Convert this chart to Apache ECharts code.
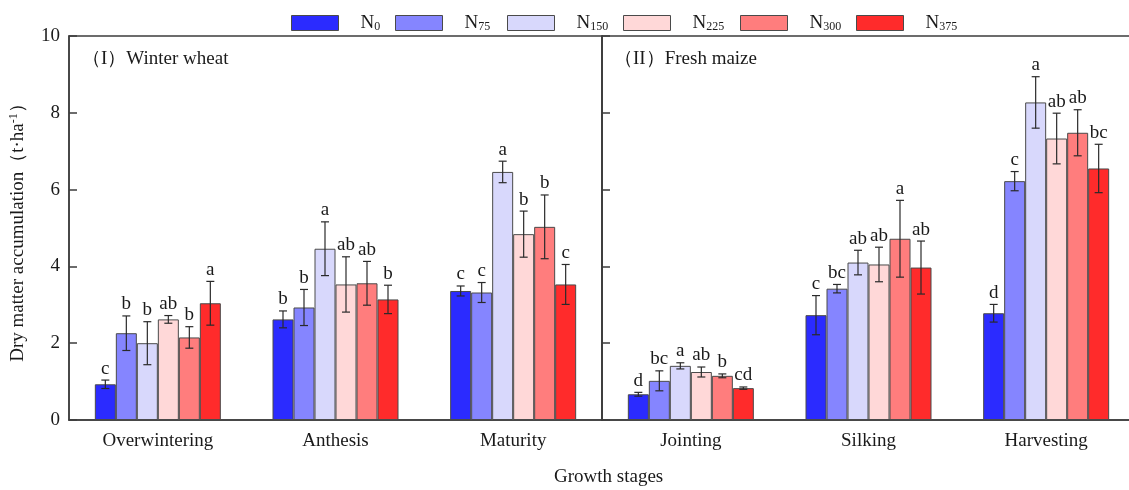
<!DOCTYPE html>
<html>
<head>
<meta charset="utf-8">
<script src="https://cdn.jsdelivr.net/npm/echarts@6/dist/echarts.min.js"></script>
<style>
html,body{margin:0;padding:0;background:#fff;}
#chart{width:1129px;height:490px;}
</style>
</head>
<body>
<div id="chart"></div>
<script>
// ---------- data ----------
const WHEAT_CATS = ['Overwintering', 'Anthesis', 'Maturity'];
const MAIZE_CATS = ['Jointing', 'Silking', 'Harvesting'];
const TREATMENTS = ['N0', 'N75', 'N150', 'N225', 'N300', 'N375'];
const TREAT_SUBS = ['0', '75', '150', '225', '300', '375'];
const Y_TICKS = [0, 2, 4, 6, 8, 10];

// wheat means (rows: treatments, cols: stages)
const WHEAT_N0   = [0.93, 2.62, 3.36];
const WHEAT_N75  = [2.26, 2.93, 3.32];
const WHEAT_N150 = [2.00, 4.46, 6.46];
const WHEAT_N225 = [2.62, 3.53, 4.84];
const WHEAT_N300 = [2.15, 3.56, 5.03];
const WHEAT_N375 = [3.04, 3.14, 3.53];
const WHEAT_ERR = [
  [0.11, 0.22, 0.13],
  [0.45, 0.47, 0.26],
  [0.56, 0.70, 0.28],
  [0.10, 0.72, 0.60],
  [0.28, 0.57, 0.83],
  [0.57, 0.37, 0.52]
];
const WHEAT_LETTERS = [
  ['c', 'b', 'c'],
  ['b', 'b', 'c'],
  ['b', 'a', 'a'],
  ['ab', 'ab', 'b'],
  ['b', 'ab', 'b'],
  ['a', 'b', 'c']
];

// maize means
const MAIZE_N0   = [0.67, 2.73, 2.78];
const MAIZE_N75  = [1.02, 3.42, 6.22];
const MAIZE_N150 = [1.41, 4.10, 8.27];
const MAIZE_N225 = [1.25, 4.05, 7.33];
const MAIZE_N300 = [1.15, 4.72, 7.48];
const MAIZE_N375 = [0.83, 3.97, 6.55];
const MAIZE_ERR = [
  [0.05, 0.51, 0.23],
  [0.26, 0.11, 0.25],
  [0.08, 0.32, 0.67],
  [0.13, 0.45, 0.66],
  [0.05, 1.00, 0.60],
  [0.03, 0.69, 0.63]
];
const MAIZE_LETTERS = [
  ['d', 'c', 'd'],
  ['bc', 'bc', 'c'],
  ['a', 'ab', 'a'],
  ['ab', 'ab', 'ab'],
  ['b', 'a', 'ab'],
  ['cd', 'ab', 'bc']
];

const WHEAT = [WHEAT_N0, WHEAT_N75, WHEAT_N150, WHEAT_N225, WHEAT_N300, WHEAT_N375];
const MAIZE = [MAIZE_N0, MAIZE_N75, MAIZE_N150, MAIZE_N225, MAIZE_N300, MAIZE_N375];

// ---------- style ----------
const COLORS = ['#2b2bff', '#8585ff', '#d8d8fc', '#ffd8d8', '#ff7d7d', '#ff2b2b'];
const FONT = '"Liberation Serif", "Times New Roman", serif';
const LINE = '#3c3c3c';
const BAR_W = 21;
const LEGEND_LEFT = [286, 390, 502, 618, 735, 851];

const chart = echarts.init(document.getElementById('chart'), null, {renderer: 'canvas'});

function xAxisDef(cats, gi) {
  return {
    type: 'category', gridIndex: gi, data: cats,
    axisLine: {lineStyle: {color: LINE, width: 1.5}},
    axisTick: {alignWithLabel: true, length: 8, inside: false, lineStyle: {color: LINE, width: 1.5}},
    axisLabel: {fontFamily: FONT, fontSize: 19, color: '#1a1a1a', margin: 12}
  };
}
function yAxisDef(gi, showLabel) {
  const ax = {
    type: 'value', gridIndex: gi, min: Y_TICKS[0], max: Y_TICKS[Y_TICKS.length - 1], interval: 2,
    splitLine: {show: false},
    axisLine: {show: true, lineStyle: {color: LINE, width: 1.5}},
    axisTick: {show: true, inside: true, length: 8, lineStyle: {color: LINE, width: 1.5}},
    axisLabel: {show: showLabel, fontFamily: FONT, fontSize: 19, color: '#1a1a1a', margin: 9}
  };
  if (showLabel) {
    ax.name = 'Dry matter accumulation（t·ha{sup|-1}）';
    ax.nameLocation = 'middle';
    ax.nameGap = 41;
    ax.nameTextStyle = {
      fontFamily: FONT, fontSize: 19, color: '#1a1a1a',
      rich: {sup: {fontFamily: FONT, fontSize: 12, color: '#1a1a1a', verticalAlign: 'top', padding: [0, 0, 8, 0]}}
    };
  }
  return ax;
}

const series = [];
TREATMENTS.forEach((name, t) => {
  series.push({
    name, type: 'bar', xAxisIndex: 0, yAxisIndex: 0, data: WHEAT[t],
    barWidth: BAR_W, barGap: '0%',
    itemStyle: {color: COLORS[t], borderColor: '#4a4a4a', borderWidth: 1}
  });
  series.push({
    name, type: 'bar', xAxisIndex: 1, yAxisIndex: 1, data: MAIZE[t],
    barWidth: BAR_W, barGap: '0%',
    itemStyle: {color: COLORS[t], borderColor: '#4a4a4a', borderWidth: 1}
  });
});

function errSeries(means, errs, letters, gi) {
  const data = [];
  const lets = [];
  means.forEach((row, t) => row.forEach((m, c) => {
    data.push([c, m, errs[t][c], t]);
    lets.push(letters[t][c]);
  }));
  return {
    type: 'custom', xAxisIndex: gi, yAxisIndex: gi, data, z: 10, silent: true, clip: false,
    encode: {x: 0, y: 1},
    renderItem(params, api) {
      const c = api.value(0), m = api.value(1), e = api.value(2), t = api.value(3);
      const off = (t - (TREATMENTS.length - 1) / 2) * BAR_W;
      const top = api.coord([c, m + e]);
      const bot = api.coord([c, m - e]);
      const x = top[0] + off;
      const cap = 4;
      const st = {stroke: '#2a2a2a', lineWidth: 1.2};
      return {
        type: 'group',
        children: [
          {type: 'line', shape: {x1: x, y1: top[1], x2: x, y2: bot[1]}, style: st},
          {type: 'line', shape: {x1: x - cap, y1: top[1], x2: x + cap, y2: top[1]}, style: st},
          {type: 'line', shape: {x1: x - cap, y1: bot[1], x2: x + cap, y2: bot[1]}, style: st},
          {type: 'text', x: x, y: top[1] - 2,
           style: {text: lets[params.dataIndex], fontFamily: FONT, fontSize: 19, fill: '#1a1a1a',
                   align: 'center', verticalAlign: 'bottom'}}
        ]
      };
    }
  };
}
series.push(errSeries(WHEAT, WHEAT_ERR, WHEAT_LETTERS, 0));
series.push(errSeries(MAIZE, MAIZE_ERR, MAIZE_LETTERS, 1));

const legends = TREATMENTS.map((name, t) => ({
  data: [name], left: LEGEND_LEFT[t], top: 9,
  itemWidth: 47, itemHeight: 15, icon: 'rect',
  itemStyle: {borderColor: '#4a4a4a', borderWidth: 1},
  selectedMode: false,
  formatter: () => '{p|}{n|N}{s|' + TREAT_SUBS[t] + '}',
  textStyle: {
    fontFamily: FONT, color: '#1a1a1a',
    rich: {
      p: {width: 17},
      n: {fontFamily: FONT, fontSize: 19, color: '#1a1a1a', verticalAlign: 'bottom', lineHeight: 20},
      s: {fontFamily: FONT, fontSize: 12, color: '#1a1a1a', verticalAlign: 'bottom', lineHeight: 16}
    }
  }
}));

const option = {
  animation: false,
  backgroundColor: '#fff',
  title: [
    {text: '（I）Winter wheat', left: 77, top: 45, textStyle: {fontFamily: FONT, fontSize: 19, fontWeight: 'normal', color: '#1a1a1a'}},
    {text: '（II）Fresh maize', left: 609, top: 45, textStyle: {fontFamily: FONT, fontSize: 19, fontWeight: 'normal', color: '#1a1a1a'}},
    {text: 'Growth stages', left: 549, top: 463, textStyle: {fontFamily: FONT, fontSize: 19, fontWeight: 'normal', color: '#1a1a1a'}}
  ],
  legend: legends,
  grid: [
    {left: 69, width: 533, top: 36, bottom: 70, show: true, borderColor: LINE, borderWidth: 1.5,
     backgroundColor: 'transparent', outerBoundsMode: 'none', containLabel: false},
    {left: 602, width: 533, top: 36, bottom: 70, show: true, borderColor: LINE, borderWidth: 1.5,
     backgroundColor: 'transparent', outerBoundsMode: 'none', containLabel: false}
  ],
  xAxis: [xAxisDef(WHEAT_CATS, 0), xAxisDef(MAIZE_CATS, 1)],
  yAxis: [yAxisDef(0, true), yAxisDef(1, false)],
  series
};
chart.setOption(option);
</script>
</body>
</html>
